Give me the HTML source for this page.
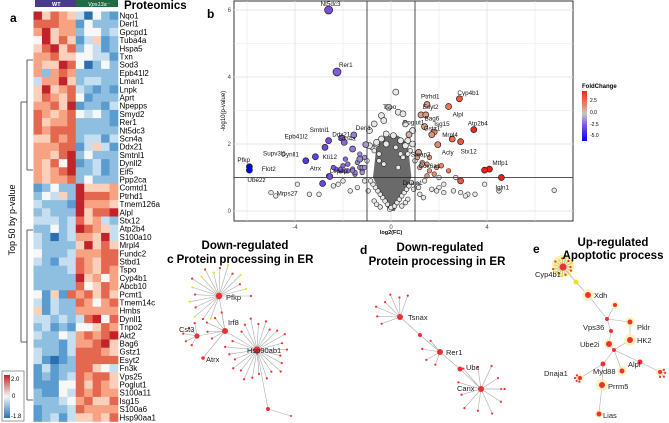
<!DOCTYPE html>
<html><head><meta charset="utf-8">
<style>
body{margin:0;width:669px;height:423px;overflow:hidden;background:#fff;font-family:"Liberation Sans",Arial,sans-serif;}
svg{position:absolute;left:0;top:0}
</style></head>
<body>
<svg id="fig" width="669" height="423" viewBox="0 0 669 423">
<text x="10" y="22" font-size="12" font-weight="bold">a</text>
<rect x="35" y="0" width="41" height="7" fill="#4a3a8c"/>
<rect x="76" y="0" width="42" height="7" fill="#1e6b44"/>
<text x="52" y="6" font-size="5.5" fill="#fff" font-weight="bold">WT</text>
<text x="88" y="6" font-size="5.5" fill="#fff" font-style="italic">Vps13a⁻</text>
<text x="124" y="9" font-size="11.5" font-weight="bold">Proteomics</text>
<g id="heat"></g>
<g id="heatlabels"></g>
<g stroke="#333" stroke-width="0.8" fill="none">
<path d="M21 102 V342 M21 102 H27 M21 342 H27 M27 60 V170 M27 230 V400 M27 60 H33 M27 170 H33 M27 230 H33 M27 400 H33"/>
</g>
<text transform="translate(15,220) rotate(-90)" font-size="9" text-anchor="middle">Top 50 by p-value</text>
<g>
<defs><linearGradient id="hg" x1="0" y1="0" x2="0" y2="1"><stop offset="0" stop-color="#c0242a"/><stop offset="0.5" stop-color="#f7f7f7"/><stop offset="1" stop-color="#2c6fb0"/></linearGradient></defs>
<rect x="2" y="371" width="22" height="50" fill="#fff" stroke="#555" stroke-width="0.6"/>
<rect x="4" y="375" width="6" height="43" fill="url(#hg)"/>
<text x="11" y="381" font-size="6">2.0</text><text x="12" y="398" font-size="6">0</text><text x="11" y="418" font-size="6">-1.8</text>
</g>

<text x="207" y="18" font-size="12" font-weight="bold">b</text>
<g id="volcano"></g>

<g id="net"></g>
<text x="167" y="263" font-size="12" font-weight="bold">c</text>
<text x="245" y="249" font-size="11.5" font-weight="bold" text-anchor="middle">Down-regulated</text>
<text x="245" y="263" font-size="11.5" font-weight="bold" text-anchor="middle">Protein processing in ER</text>
<text x="360" y="254" font-size="12" font-weight="bold">d</text>
<text x="440" y="251" font-size="11.5" font-weight="bold" text-anchor="middle">Down-regulated</text>
<text x="437" y="265" font-size="11.5" font-weight="bold" text-anchor="middle">Protein processing in ER</text>
<text x="533" y="253" font-size="12" font-weight="bold">e</text>
<text x="613" y="246" font-size="11.5" font-weight="bold" text-anchor="middle">Up-regulated</text>
<text x="613" y="259" font-size="11.5" font-weight="bold" text-anchor="middle">Apoptotic process</text>
</svg>
<script>
const NS="http://www.w3.org/2000/svg";
function mk(p,t,a){const e=document.createElementNS(NS,t);for(const k in a)e.setAttribute(k,a[k]);p.appendChild(e);return e;}

const geneLabels=["Nqo1","Derl1","Gpcpd1","Tuba4a","Hspa5","Txn","Sod3","Epb41l2","Lman1","Lnpk","Aprt","Npepps","Smyd2","Rer1","Nt5dc3","Scn4a","Ddx21","Smtnl1","Dynll2","Eif5","Ppp2ca","Comtd1","Ptrhd1","Tmem126a","Alpl","Stx12","Atp2b4","S100a10","Mrpl4","Fundc2","Stbd1","Tspo","Cyp4b1","Abcb10","Pcmt1","Tmem14c","Hmbs","Dynll1","Tnpo2","Akt2","Bag6","Gstz1","Esyt2","Fn3k","Vps25","Poglut1","S100a11","Isg15","S100a6","Hsp90aa1"];
const heatRows=["8576530421","7776614222","6856624423","4857513512","5785724312","6675544331","6558740242","6267622222","3668523322","5856732121","5765741222","6675812213","7656743421","7566722221","7677722222","5576723313","6667713531","6657824222","6574812312","6567822312","6566724222",
"1242285556","2435287776","3222186665","2322285778","3332375632","2242387653","3202366583","3222258575","4222366677","3213376577","2222376576","2222285646","2222274576","4151767575","3132276467","5132266666","3323237847","2312144576","3224367678","2221366785","3221377765","3101277777","1312277543","1212376775","1114475765","2114376766","2223467557","1222376666","1231355657"];
const heatPal=["#2c6fb0","#5a9bd0","#8fbfe0","#c6dff0","#f7f7f7","#fbd0bb","#f6a283","#e4674f","#c0242a"];
(function(){
 const g=document.getElementById('heat'),gl=document.getElementById('heatlabels');
 const x0=33.5,cw=8.45,y0=11.5,rh=8.2;
 heatRows.forEach((row,r)=>{
  for(let c=0;c<row.length;c++){
   const cell=mk(g,'rect',{x:x0+c*cw,y:y0+r*rh,width:cw+0.3,height:rh+0.3,fill:heatPal[+row[c]]});
   
   
  }
  const t=mk(gl,'text',{x:119.5,y:y0+r*rh+7,'font-size':'8'});t.textContent=geneLabels[r];
  
  
 });
})();

const xTicks=[-4,0,4];
const yTicks=[0,2,4,6];
const labNames=["Nt5dc3","Rer1","Cyp4b1","Alpl","Ptrhd1","Tspo","Esyt2","Atp2b4","Bag6","Isg15","Mrpl4","Stx12","Gstz1","Acly","Steap3","Mtfp1","Cox6a1","Dnaja1","Igln1","Derl1","Smtnl1","Epb41l2","Supv3l1","Ddx21","Kti12","Dynll1","Flot2","Pfkp","Ube2z","Atrx","Mrps27","Scn4a","Lepep","Poglut1"];
const labFC=[-2.6,-2.25,2.85,2.4,1.5,1.25,1.45,3.45,1.4,1.8,2.55,2.9,1.7,1.95,1.15,4.1,3.9,2.9,4.6,-1.55,-2.05,-2.6,-2.75,-1.95,-1.6,-3.15,-3.55,-5.9,-5.9,-2.55,-2.85,-1.05,-1.3,0.75];
const labP=[6.0,4.15,3.35,3.12,3.18,2.87,2.87,2.43,2.52,2.36,2.15,2.07,2.28,1.98,1.75,1.25,1.22,0.9,1.0,2.27,2.18,2.1,1.9,2.05,1.85,1.62,1.5,1.32,1.22,1.03,0.82,1.98,1.55,2.28];
const labDX=[-8,2,-2,4,-6,-38,-3,-6,0,0,-10,0,-8,4,-8,3,-66,-58,-6,2,-32,-44,-62,-12,-30,-34,-44,-12,-2,-20,-46,-28,-30,-6];
const labDY=[-4,-5,-4,10,-6,-6,-6,-4,-6,-6,-2,12,-4,10,4,-4,-2,4,12,-5,-6,-2,8,-6,10,0,10,-5,12,-6,12,-4,14,-10];
const bgFC=[-0.1,0.3,-0.4,0.6,-0.7,0.9,-0.9,0.5,-0.3,0.2,-1.2,1.2,-1.5,1.5,-1.8,1.9,-2.0,2.2,-2.4,2.6,-3.0,3.2,-3.9,3.9,-5.0,-4.8,-3.4,4.5,6.8,3.5,3.1,2.9,2.0,1.7,1.4,1.1,-1.1,-1.4,-1.7,-2.2,-0.6,0.7,-0.2,0.1,-0.8,0.8,0.4,-0.5,1.0,-1.0,1.3,-1.3,1.6,-1.6,2.1,-2.1,2.4,2.7,-2.6,-0.05,0.0,0.15,-0.15,0.25,-0.25,0.35,-0.35,0.45,-0.45,0.55,-0.55,0.65,-0.65,0.75,-0.75,0.85,-0.85,0.3,-0.3,0.5,-0.5,0.7,-0.7,0.2,-0.2,0.4,-0.4,0.6,-0.6,1.6,1.8,2.0,1.9,2.2,1.5,1.3,-1.2,-1.5,-1.9,-2.3,0.9,-0.9,1.1,-1.1,-1.3,-1.8,-2.1,-1.6,-1.4,-1.2,-1.9,-2.4,-2.0,-1.1,-0.95,0.95,1.2,1.35,1.15,-0.7,0.7,-0.6,0.6,-0.45,0.45];
const bgP=[3.1,2.95,2.85,2.6,2.6,2.4,2.4,2.9,2.7,3.55,1.2,1.3,1.1,1.4,1.2,1.3,0.9,0.8,0.75,0.6,0.5,0.5,0.8,0.8,0.55,0.45,0.5,0.6,0.62,0.5,0.45,0.55,0.7,0.65,0.9,0.8,0.9,0.7,0.6,0.8,2.0,2.1,2.3,2.25,1.9,1.8,1.7,1.7,1.5,1.5,1.45,1.3,1.6,1.25,1.35,1.2,1.2,1.0,1.05,0.05,0.1,0.15,0.2,0.25,0.3,0.35,0.4,0.45,0.5,0.55,0.6,0.65,0.7,0.75,0.8,0.85,0.9,1.3,1.4,1.6,1.5,1.7,1.8,1.9,2.0,2.1,2.15,1.95,2.05,1.2,1.1,1.0,0.6,0.55,1.05,1.4,1.3,1.15,1.2,1.25,2.0,1.95,1.6,1.6,1.7,1.4,1.25,1.2,1.45,1.15,1.55,1.3,1.35,1.3,0.6,0.65,0.5,0.4,0.7,0.3,0.35,0.2,0.25,0.12,0.15];
(function(){
 const g=document.getElementById('volcano');
 const L=234,R=573,T=1,B=221;
 const X=v=>391+v*24, Y=v=>211-v*33.5;
 mk(g,'rect',{x:L,y:T,width:R-L,height:B-T,fill:'#fff',stroke:'#333','stroke-width':1});
 for(let v=-6;v<=6;v+=2){mk(g,'line',{x1:X(v),x2:X(v),y1:T,y2:B,stroke:'#e4e4e4','stroke-width':v%4==0?0.9:0.5});}
 for(let v=0;v<=6;v+=1){mk(g,'line',{x1:L,x2:R,y1:Y(v),y2:Y(v),stroke:'#e4e4e4','stroke-width':v%2==0?0.9:0.5});}
 xTicks.forEach(v=>{const t=mk(g,'text',{x:X(v),y:B+8,'font-size':6,'text-anchor':'middle',fill:'#444'});t.textContent=v;
  });
 yTicks.forEach(v=>{const t=mk(g,'text',{x:L-3,y:Y(v)+2,'font-size':6,'text-anchor':'end',fill:'#444'});t.textContent=v;
  });
 const xt=mk(g,'text',{x:X(0),y:B+13,'font-size':5.5,'text-anchor':'middle','font-weight':'bold'});xt.textContent='log2(FC)';
 
 const yt=mk(g,'text',{transform:`translate(225,${(T+B)/2}) rotate(-90)`,'font-size':6,'text-anchor':'middle'});yt.textContent='-log10(p-value)';
 
 mk(g,'path',{d:`M${X(-0.1)} ${Y(0)} L${X(-0.75)} ${Y(1)} L${X(-0.6)} ${Y(2.0)} L${X(-0.25)} ${Y(2.25)} L${X(0.3)} ${Y(2.25)} L${X(0.7)} ${Y(2.0)} L${X(0.85)} ${Y(1.0)} L${X(0.15)} ${Y(0)} Z`,fill:'#6a6a6a'});
 function col(fc){
  const s=[[-6,[0,0,255]],[-2.5,[120,80,220]],[0,[200,200,200]],[2.5,[240,120,80]],[3.6,[240,30,20]]];
  for(let i=0;i<s.length-1;i++){if(fc<=s[i+1][0]){const t=Math.max(0,(fc-s[i][0])/(s[i+1][0]-s[i][0]));const a=s[i][1],b=s[i+1][1];return `rgb(${a.map((v,k)=>Math.round(v+(b[k]-v)*t)).join(',')})`;}}
  return 'rgb(240,30,20)';
 }
 bgFC.forEach((fc,i)=>{const c=mk(g,'circle',{cx:X(fc),cy:Y(bgP[i]),r:bgP[i]>1.9?3:2.3,fill:Math.abs(fc)>1&&bgP[i]>1?col(fc):'#e8e8e8',stroke:'#222','stroke-width':0.6});
  });
 mk(g,'line',{x1:X(-1),x2:X(-1),y1:T,y2:B,stroke:'#222','stroke-width':0.8});
 mk(g,'line',{x1:X(1),x2:X(1),y1:T,y2:B,stroke:'#222','stroke-width':0.8});
 mk(g,'line',{x1:L,x2:R,y1:Y(1),y2:Y(1),stroke:'#222','stroke-width':0.8});
 labNames.forEach((n,i)=>{const fc=labFC[i],p=labP[i];
  const c=mk(g,'circle',{cx:X(fc),cy:Y(p),r:p>3.8?4:3,fill:col(fc),stroke:'#222','stroke-width':0.7});
  
  const t=mk(g,'text',{x:X(fc)+labDX[i],y:Y(p)+labDY[i],'font-size':6.3,fill:'#111'});t.textContent=n;
  });
 const lg=mk(document.getElementById('fig'),'g',{});
 
 const d=mk(lg,'defs',{});const gr=mk(d,'linearGradient',{id:'fcg',x1:0,y1:0,x2:0,y2:1});
 [['0','#f02a14'],['0.3','#e88a70'],['0.45','#c8c8c8'],['0.7','#7a50dc'],['1','#0000ff']].forEach(s=>mk(gr,'stop',{offset:s[0],'stop-color':s[1]}));
 const ft=mk(lg,'text',{x:582,y:88,'font-size':6,'font-weight':'bold'});ft.textContent='FoldChange';
 mk(lg,'rect',{x:582,y:91,width:5,height:50,fill:'url(#fcg)'});
 [['2.5',102],['0.0',114],['-2.5',126],['-5.0',137]].forEach(a=>{const t=mk(lg,'text',{x:590,y:a[1],'font-size':5});t.textContent=a[0];});
})();

(function(){
 const g=document.getElementById('net');
 function edge(a,b){mk(g,'line',{x1:a[0],y1:a[1],x2:b[0],y2:b[1],stroke:'#aaa','stroke-width':0.6});}
 function node(p,r,f){const c=mk(g,'circle',{cx:p[0],cy:p[1],r:r,fill:f||'#f03030'});return c;}
 function lab(p,t,dx,dy){const e=mk(g,'text',{x:p[0]+dx,y:p[1]+dy,'font-size':7.5,fill:'#222'});e.textContent=t;}
 function star(c,n,rad,a0,a1,yellowEvery){for(let i=0;i<n;i++){const a=(a0+(a1-a0)*i/(n-1))*Math.PI/180;const rr=rad*(0.75+0.25*((i*7)%5)/4);const p=[c[0]+rr*Math.cos(a),c[1]+rr*Math.sin(a)];edge(c,p);node(p,1.1,yellowEvery&&i%yellowEvery==0?'#f0e020':'#f03030');}}
 const pf=[219,296],ir=[225,331],hs=[257,350],cs=[197,336],at=[203,358];
 edge(pf,ir);edge(ir,hs);edge(ir,cs);edge(ir,at);
 star(pf,18,32,110,360,2);star(hs,24,32,-130,200,0);star(ir,5,20,150,260,0);star(cs,5,14,120,260,0);
 const h1=[268,409],h2=[291,416];edge(hs,h1);edge(h1,h2);node(h1,2);node(h2,1);
 node(pf,3.2);node(ir,3);node(hs,3.6);node(cs,2.6);node(at,1.8);
 lab(pf,'Pfkp',7,4);lab(ir,'Irf8',3,-6);lab(hs,'Hsp90ab1',-10,3);lab(cs,'Cst3',-18,-4);lab(at,'Atrx',3,4);
 const ts=[400,317],m1=[420,335],rr=[440,352],ub=[460,369],cx=[481,389];
 edge(ts,m1);edge(m1,rr);edge(rr,ub);edge(ub,cx);
 star(ts,7,26,160,290,0);star(rr,4,18,110,230,0);star(cx,12,27,0,360,0);
 node(ts,3);node(m1,2);node(rr,3);node(ub,2.5);node(cx,3);
 lab(ts,'Tsnax',8,3);lab(rr,'Rer1',6,3);lab(ub,'Ubc',6,1);lab(cx,'Canx',-24,2);
 mk(g,'circle',{cx:563,cy:266,r:11,fill:'#f6ee90',opacity:0.8});
 const cy=[563,267],y1=[576,282],xd=[588,295],j=[607,319],vp=[611,331],ub2=[609,344],pk=[630,322],hk=[630,340],c2=[614,350],al=[622,371],my=[603,364],dn=[580,378],pr=[602,385],li=[599,414],r1=[640,362],r2=[660,372];
 [[cy,y1],[y1,xd],[xd,j],[j,vp],[vp,ub2],[j,pk],[pk,hk],[hk,c2],[ub2,c2],[c2,al],[c2,my],[my,dn],[my,pr],[pr,li],[c2,r1],[r1,r2],[j,[615,305]]].forEach(e=>edge(e[0],e[1]));
 [[xd,6],[pk,5],[hk,6],[pr,6],[al,5],[li,4],[ub2,5],[r2,4],[[615,305],4],[dn,4]].forEach(a=>mk(g,'circle',{cx:a[0][0],cy:a[0][1],r:a[1],fill:'#f8f0b0',opacity:0.8}));
 star(cy,16,10,0,360,2);star(r2,4,6,-30,90,0);star(dn,4,5,100,220,0);
 node(cy,3.5);node(y1,2.5,'#f0e020');node(xd,3);node(j,2);node(vp,2);node(ub2,3);node(pk,2.5);node(hk,3);node(c2,2);node(al,2.5);node(my,2.5);node(dn,2);node(pr,3);node(li,2.5);node(r1,2.5);node(r2,2);node([615,305],2);
 lab(cy,'Cyp4b1',-28,10);lab(xd,'Xdh',6,3);lab(vp,'Vps36',-28,-1);lab(ub2,'Ube2i',-29,3);lab(pk,'Pklr',7,8);lab(hk,'HK2',7,3);
 lab(al,'Alpl',6,-4);lab(my,'Myd88',-10,10);lab(dn,'Dnaja1',-36,-2);lab(pr,'Prrm5',6,4);lab(li,'Lias',4,4);
})();
</script>
</body></html>
